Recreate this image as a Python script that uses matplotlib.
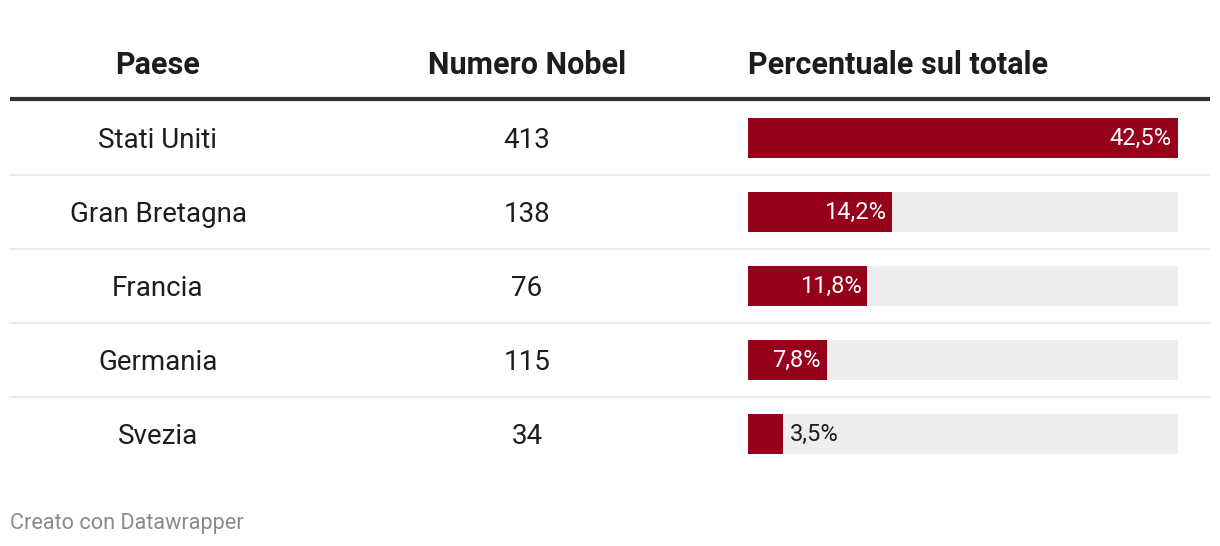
import matplotlib.pyplot as plt

plt.rcParams['font.family'] = ['Roboto', 'DejaVu Sans']

# data
paesi = ['Stati Uniti', 'Gran Bretagna', 'Francia', 'Germania', 'Svezia']
nobel = [413, 138, 76, 115, 34]
percentuale = [42.5, 14.2, 11.8, 7.8, 3.5]
intestazioni = ['Paese', 'Numero Nobel', 'Percentuale sul totale']

W, H = 1220, 546
fig = plt.figure(figsize=(W / 100, H / 100), dpi=100)

# main axes in pixel coordinates (origin top-left)
ax = fig.add_axes([0, 0, 1, 1])
ax.set_xlim(0, W)
ax.set_ylim(H, 0)
ax.axis('off')

dark = '#1d1d1d'
red = '#95001a'

row_top = 101
row_h = 74
n = len(paesi)

# headers
ax.text(158, 65, intestazioni[0], ha='center', va='center', fontsize=22,
        fontweight='bold', color=dark)
ax.text(527, 65, intestazioni[1], ha='center', va='center', fontsize=22,
        fontweight='bold', color=dark)
ax.text(748, 65, intestazioni[2], ha='left', va='center', fontsize=22,
        fontweight='bold', color=dark)
ax.plot([10, 1210], [99, 99], color='#333333', lw=3, solid_capstyle='butt')

for i in range(n):
    yc = row_top + row_h * i + row_h / 2 + 2
    ax.text(158, yc, paesi[i], ha='center', va='center', fontsize=20, color=dark)
    ax.text(527, yc, str(nobel[i]), ha='center', va='center', fontsize=20, color=dark)
    if i < n - 1:
        ys = row_top + row_h * (i + 1)
        ax.plot([10, 1210], [ys, ys], color='#e8e8e8', lw=1.2)

ax.text(10, 523, 'Creato con Datawrapper', ha='left', va='center', fontsize=15.6,
        color='#8a8a8a')

# bar column axes
bx0, bx1 = 748, 1178
bax = fig.add_axes([bx0 / W, 1 - (row_top + row_h * n) / H,
                    (bx1 - bx0) / W, row_h * n / H])
vmax = max(percentuale)
bax.set_xlim(0, vmax)
bax.set_ylim(n - 0.5, -0.5)
bax.axis('off')
ypos = list(range(n))
bh = 40 / row_h
bax.barh(ypos, [vmax] * n, height=bh, color='#ededed', lw=0)
bax.barh(ypos, percentuale, height=bh, color=red, lw=0)

pad = 6 * vmax / (bx1 - bx0)
for i, v in enumerate(percentuale):
    lab = f'{v:.1f}%'.replace('.', ',')
    if v > 5:
        bax.text(v - pad, i, lab, ha='right', va='center', fontsize=17, color='white')
    else:
        bax.text(v + pad, i, lab, ha='left', va='center', fontsize=17, color=dark)

fig.savefig('out.png', dpi=100)
